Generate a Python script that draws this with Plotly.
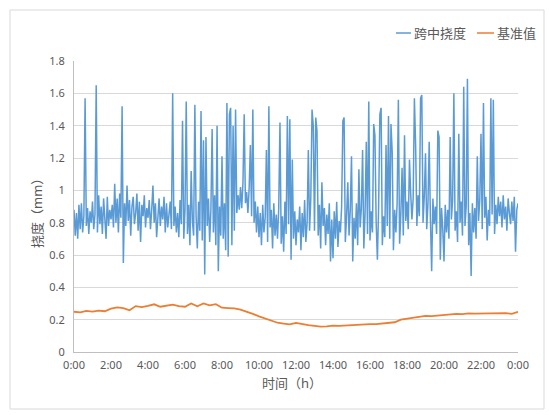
import plotly.graph_objects as go

# ---------------- data ----------------
# 跨中挠度: one sample every 4 minutes, 0:00 .. 24:00 (15 samples per hour row)
deflection_rows = [
    [0.88, 0.72, 0.86, 0.70, 0.91, 0.76, 0.92, 0.74, 0.84, 1.57, 0.78, 0.89, 0.73, 0.87, 0.80],  # 0h
    [0.93, 0.76, 0.85, 1.65, 0.74, 0.97, 0.79, 0.90, 0.73, 0.95, 0.82, 0.70, 0.96, 0.78, 0.88],  # 1h
    [0.82, 0.91, 0.77, 1.04, 0.80, 0.95, 0.74, 0.98, 0.83, 1.52, 0.55, 0.92, 0.78, 1.03, 0.81],  # 2h
    [0.94, 0.72, 0.90, 0.96, 0.79, 0.86, 0.98, 0.75, 0.93, 0.68, 0.91, 0.84, 0.97, 0.77, 0.89],  # 3h
    [0.83, 0.94, 0.76, 0.88, 1.03, 0.80, 0.92, 0.71, 0.87, 0.95, 0.78, 0.90, 0.82, 0.96, 0.74],  # 4h
    [0.92, 0.77, 0.87, 0.93, 0.76, 1.60, 0.78, 0.90, 0.74, 0.86, 0.71, 0.94, 0.79, 1.43, 0.70],  # 5h
    [0.88, 1.55, 0.73, 0.91, 0.66, 1.12, 0.81, 0.72, 1.53, 0.84, 0.64, 0.93, 0.75, 1.49, 0.69],  # 6h
    [1.31, 0.48, 1.33, 0.78, 0.95, 0.68, 0.88, 1.38, 0.74, 0.97, 0.66, 1.40, 0.50, 0.90, 0.72],  # 7h
    [1.21, 0.70, 0.92, 0.63, 1.54, 0.59, 1.47, 1.51, 0.66, 1.40, 0.75, 1.50, 0.86, 0.97, 0.88],  # 8h
    [1.02, 0.89, 1.05, 1.47, 0.92, 0.99, 0.86, 1.01, 1.28, 0.84, 1.50, 0.80, 0.93, 0.74, 0.90],  # 9h
    [0.71, 0.86, 0.66, 0.91, 0.74, 0.83, 1.25, 0.68, 1.52, 0.77, 0.88, 0.64, 0.92, 0.72, 0.85],  # 10h
    [0.70, 0.89, 1.42, 0.67, 0.84, 0.62, 0.93, 0.73, 1.46, 0.79, 1.44, 0.57, 1.19, 0.70, 0.87],  # 11h
    [0.66, 0.82, 0.74, 0.90, 0.63, 0.86, 0.71, 0.94, 0.68, 0.80, 1.25, 0.75, 0.95, 1.50, 1.40],  # 12h
    [0.75, 1.45, 1.37, 0.72, 0.91, 0.64, 1.05, 0.78, 0.89, 0.66, 0.85, 0.73, 0.92, 0.56, 0.82],  # 13h
    [0.58, 0.87, 0.70, 0.93, 0.65, 0.81, 0.74, 0.90, 1.43, 1.45, 0.68, 0.84, 1.05, 0.72, 0.88],  # 14h
    [1.21, 0.56, 0.83, 0.70, 0.92, 0.66, 1.13, 0.77, 0.89, 1.25, 0.64, 0.86, 1.30, 0.73, 1.55],  # 15h
    [0.69, 0.87, 0.74, 1.41, 1.34, 0.80, 0.57, 0.90, 1.47, 1.51, 0.66, 0.84, 0.71, 1.28, 0.78],  # 16h
    [1.46, 0.70, 1.41, 1.24, 0.63, 0.88, 0.74, 0.92, 1.56, 0.67, 0.85, 1.14, 0.72, 1.34, 0.81],  # 17h
    [0.93, 0.76, 1.19, 0.98, 0.82, 0.95, 1.57, 1.28, 0.78, 0.97, 0.84, 1.57, 1.59, 0.80, 0.96],  # 18h
    [1.23, 0.76, 0.92, 1.30, 0.82, 0.50, 0.95, 0.79, 0.90, 0.73, 1.37, 1.33, 0.57, 0.89, 0.76],  # 19h
    [0.56, 0.91, 0.74, 0.88, 0.70, 1.33, 0.82, 0.94, 1.60, 0.75, 0.87, 0.68, 1.35, 0.80, 0.93],  # 20h
    [0.72, 1.64, 0.78, 0.90, 1.69, 0.66, 0.86, 0.47, 0.92, 0.74, 0.89, 0.70, 1.21, 0.81, 0.94],  # 21h
    [1.35, 0.76, 1.54, 0.83, 0.96, 0.69, 0.88, 0.78, 1.57, 0.85, 1.56, 0.73, 0.91, 0.79, 0.96],  # 22h
    [0.84, 0.93, 0.77, 0.97, 0.82, 0.90, 0.75, 0.95, 0.86, 0.79, 0.93, 0.81, 0.96, 0.62, 0.88],  # 23h
    [0.92],                                                                                      # 24h
]
deflection = [v for row in deflection_rows for v in row]
deflection_time = [i * 4 / 60 for i in range(len(deflection))]

# 基准值: one sample every 20 minutes
baseline = [
    0.249, 0.245, 0.254, 0.250, 0.256, 0.252, 0.268, 0.276, 0.272, 0.258,
    0.284, 0.278, 0.286, 0.295, 0.280, 0.285, 0.293, 0.284, 0.280, 0.300,
    0.283, 0.300, 0.288, 0.296, 0.274, 0.272, 0.270, 0.262, 0.250, 0.236,
    0.220, 0.206, 0.192, 0.181, 0.176, 0.171, 0.180, 0.172, 0.166, 0.162,
    0.157, 0.159, 0.163, 0.162, 0.164, 0.167, 0.170, 0.173, 0.172, 0.172,
    0.176, 0.180, 0.184, 0.200, 0.206, 0.212, 0.217, 0.224, 0.222, 0.226,
    0.228, 0.233, 0.236, 0.234, 0.239, 0.237, 0.238, 0.237, 0.238, 0.239,
    0.240, 0.236, 0.249,
]
baseline_time = [i * 20 / 60 for i in range(len(baseline))]

tick_hours = [0, 2, 4, 6, 8, 10, 12, 14, 16, 18, 20, 22, 24]
tick_labels = ["0:00", "2:00", "4:00", "6:00", "8:00", "10:00", "12:00",
               "14:00", "16:00", "18:00", "20:00", "22:00", "0:00"]
series_names = ["跨中挠度", "基准值"]

# ---------------- figure ----------------
BLUE = "#5B9BD5"
ORANGE = "#ED7D31"
GRAY = "#595959"
FONT = "Noto Sans, Noto Sans CJK SC, sans-serif"

W, H = 549, 415
L, R, T, B = 74, 31, 61, 63
PW, PH = W - L - R, H - T - B


def px(x):
    return (x - L) / PW


def py(y):
    return (H - B - y) / PH


fig = go.Figure()
fig.add_trace(go.Scatter(x=deflection_time, y=deflection, mode="lines",
                         line=dict(color=BLUE, width=1.5), name=series_names[0],
                         showlegend=False))
fig.add_trace(go.Scatter(x=baseline_time, y=baseline, mode="lines",
                         line=dict(color=ORANGE, width=1.8), name=series_names[1],
                         showlegend=False))

shapes = [
    # outer chart border
    dict(type="rect", xref="paper", yref="paper", x0=px(10), x1=px(544),
         y0=py(409), y1=py(10), line=dict(color="#d9d9d9", width=1), layer="below"),
    # legend samples
    dict(type="line", xref="paper", yref="paper", x0=px(396), x1=px(411),
         y0=py(33), y1=py(33), line=dict(color=BLUE, width=1.5)),
    dict(type="line", xref="paper", yref="paper", x0=px(477), x1=px(494),
         y0=py(33), y1=py(33), line=dict(color=ORANGE, width=1.5)),
]
annotations = [
    dict(text=series_names[0], x=px(412), y=py(33), xref="paper", yref="paper",
         xanchor="left", yanchor="middle", showarrow=False,
         font=dict(size=13, color=GRAY, family=FONT)),
    dict(text=series_names[1], x=px(495), y=py(33), xref="paper", yref="paper",
         xanchor="left", yanchor="middle", showarrow=False,
         font=dict(size=13, color=GRAY, family=FONT)),
    dict(text="挠度（mm）", x=px(37), y=py(210), xref="paper", yref="paper",
         xanchor="center", yanchor="middle", textangle=-90, showarrow=False,
         font=dict(size=13, color=GRAY, family=FONT)),
    dict(text="时间（h）", x=px(292), y=py(383), xref="paper", yref="paper",
         xanchor="center", yanchor="middle", showarrow=False,
         font=dict(size=13, color=GRAY, family=FONT)),
]

fig.update_layout(
    width=W, height=H,
    margin=dict(l=L, r=R, t=T, b=B),
    paper_bgcolor="white", plot_bgcolor="white",
    font=dict(family=FONT, color=GRAY, size=11),
    shapes=shapes, annotations=annotations,
    showlegend=False,
)
fig.update_xaxes(range=[0, 24], tickvals=tick_hours, ticktext=tick_labels,
                 showgrid=False, zeroline=False, showline=True,
                 linecolor="#bfbfbf", linewidth=1, ticks="",
                 ticklabelstandoff=3,
                 tickfont=dict(size=11, color=GRAY))
fig.update_yaxes(range=[0, 1.8], dtick=0.2, tick0=0, showgrid=True,
                 gridcolor="#d9d9d9", gridwidth=1, zeroline=False,
                 showline=True, linecolor="#bfbfbf", linewidth=1, ticks="",
                 ticklabelstandoff=6,
                 tickfont=dict(size=11, color=GRAY))

fig.write_html("out.html",
               config={"displayModeBar": False},
               post_script="document.body.style.margin='0';document.body.style.overflow='hidden';")
